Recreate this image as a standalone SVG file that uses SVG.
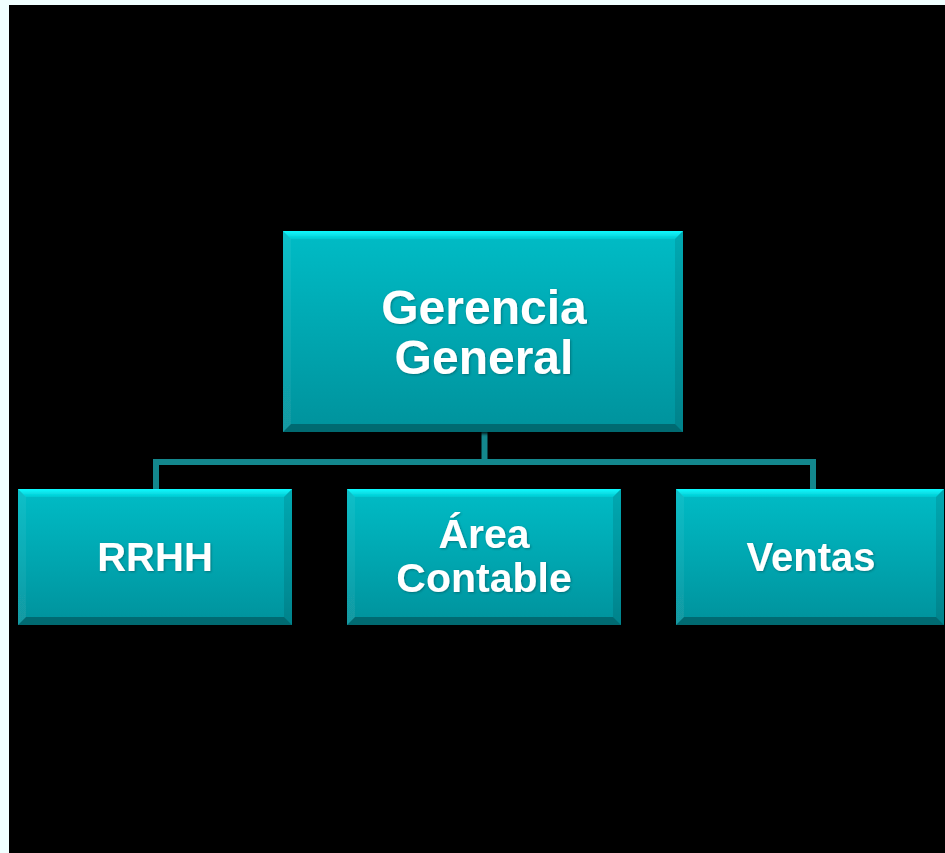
<svg xmlns="http://www.w3.org/2000/svg" width="945" height="853" viewBox="0 0 945 853">
<defs>
<linearGradient id="face" x1="0" y1="0" x2="0" y2="1">
<stop offset="0" stop-color="#00BCC6"/>
<stop offset="1" stop-color="#04929C"/>
</linearGradient>
<linearGradient id="topb" x1="0" y1="0" x2="0" y2="1">
<stop offset="0" stop-color="#10FAFF"/>
<stop offset="1" stop-color="#00C8D0"/>
</linearGradient>
<filter id="ts" x="-10%" y="-10%" width="120%" height="130%">
<feDropShadow dx="1" dy="1" stdDeviation="1" flood-color="#003a40" flood-opacity="0.45"/>
</filter>
<filter id="bs" x="-5%" y="-5%" width="110%" height="115%">
<feDropShadow dx="1" dy="2" stdDeviation="1.5" flood-color="#000" flood-opacity="0.8"/>
</filter>
</defs>
<style>
.face{fill:url(#face)}
.bt{fill:url(#topb)}
.bl{fill:#fff;opacity:0.06}
.br{fill:#000;opacity:0.1}
.bb{fill:#000;opacity:0.28}
.lbl{font-family:"Liberation Sans",Arial,sans-serif;font-weight:bold;fill:#fff;text-anchor:middle;filter:url(#ts)}
.conn{fill:none;stroke:#13878D;stroke-width:6;stroke-linejoin:miter}
</style>
<rect x="0" y="0" width="945" height="853" fill="#F0FFFF"/>
<rect x="9" y="5" width="936" height="848" fill="#000"/>
<g id="connectors">
<path class="conn" d="M484.5 432 V462"/>
<path class="conn" d="M156 489 V462 H813 V489"/>
</g>
<g id="gerencia" filter="url(#bs)">
<rect class="face" x="283" y="231" width="400" height="201"/>
<polygon class="bt" points="283,231 683,231 675,239 291,239"/>
<polygon class="bl" points="283,231 291,239 291,424 283,432"/>
<polygon class="br" points="683,231 683,432 675,424 675,239"/>
<polygon class="bb" points="283,432 291,424 675,424 683,432"/>
<text class="lbl" x="484" y="324" font-size="48">Gerencia</text>
<text class="lbl" x="484" y="374" font-size="48">General</text>
</g>
<g id="rrhh" filter="url(#bs)">
<rect class="face" x="18" y="489" width="274" height="136"/>
<polygon class="bt" points="18,489 292,489 284,497 26,497"/>
<polygon class="bl" points="18,489 26,497 26,617 18,625"/>
<polygon class="br" points="292,489 292,625 284,617 284,497"/>
<polygon class="bb" points="18,625 26,617 284,617 292,625"/>
<text class="lbl" x="155" y="571" font-size="40">RRHH</text>
</g>
<g id="contable" filter="url(#bs)">
<rect class="face" x="347" y="489" width="274" height="136"/>
<polygon class="bt" points="347,489 621,489 613,497 355,497"/>
<polygon class="bl" points="347,489 355,497 355,617 347,625"/>
<polygon class="br" points="621,489 621,625 613,617 613,497"/>
<polygon class="bb" points="347,625 355,617 613,617 621,625"/>
<text class="lbl" x="484" y="548" font-size="41">Área</text>
<text class="lbl" x="484" y="592" font-size="41">Contable</text>
</g>
<g id="ventas" filter="url(#bs)">
<rect class="face" x="676" y="489" width="268" height="136"/>
<polygon class="bt" points="676,489 944,489 936,497 684,497"/>
<polygon class="bl" points="676,489 684,497 684,617 676,625"/>
<polygon class="br" points="944,489 944,625 936,617 936,497"/>
<polygon class="bb" points="676,625 684,617 936,617 944,625"/>
<text class="lbl" x="811" y="571" font-size="40">Ventas</text>
</g>
</svg>
